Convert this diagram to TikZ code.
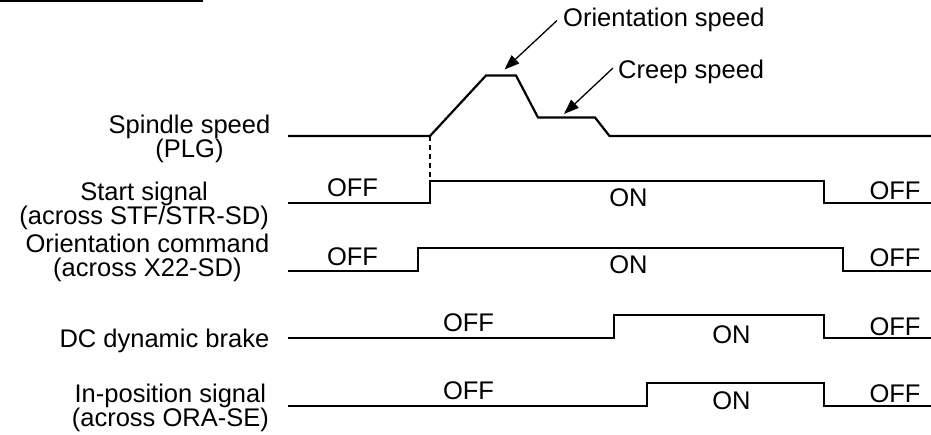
\documentclass[tikz,border=0pt]{standalone}
\usepackage{fontspec}
\setmainfont{Liberation Sans}
\usetikzlibrary{arrows.meta}
\begin{document}
\begin{tikzpicture}[x=1pt,y=-1pt,
  lbl/.style={font=\fontsize{25.5}{24.5}\selectfont, inner sep=0pt, align=center},
  state/.style={font=\fontsize{25.5}{24.5}\selectfont, inner sep=0pt, anchor=base},
  wave/.style={line width=2.4pt, line join=miter},
  thinwave/.style={line width=1.9pt, line join=miter},
  pointer/.style={line width=1.3pt, -{Triangle[length=15pt,width=11pt]}}]
\useasboundingbox (0,0) rectangle (931,435);
% cut-off title underline
\draw[line width=1.8pt] (0,0.9) -- (203,0.9);
\fill (79,0) .. controls (82,2.2) and (86,2.2) .. (89,0) -- cycle;

% signal names
\node[lbl, anchor=north east] (nspin) at (270.5,114.5) {Spindle speed\\(PLG)};
\node[lbl, anchor=north east] (nstart) at (269,181.5) {Start signal\\(across STF/STR-SD)};
\node[lbl, anchor=north east] (norient) at (269.5,233.5) {Orientation command\\(across X22-SD)};
\node[lbl, anchor=north east] (nbrake) at (269.5,328.5) {DC dynamic brake};
\node[lbl, anchor=north east] (npos) at (269,383.5) {In-position signal\\(across ORA-SE)};

% spindle speed
\draw[wave, line width=2.2pt] (288,136) -- (430,136) -- (486,75.5) -- (516,75.5) -- (538,117.5)
  -- (595,117.5) -- (609.5,136) -- (931,136);
\coordinate (rise) at (430,136);
\coordinate (risefoot) at (430,181);
\draw[line width=2pt, dash pattern=on 5pt off 4pt] (rise) -- (risefoot);

% start signal
\draw[wave] (288,203) -- (430,203) -- (430,181) -- (824,181) -- (824,203) -- (931,203);
\node[state] (s1) at (352.5,197) {OFF};
\node[state] (s2) at (628.5,207) {ON};
\node[state] (s3) at (895,200) {OFF};

% orientation command
\draw[wave] (288,271) -- (418,271) -- (418,248) -- (843,248) -- (843,271) -- (931,271);
\node[state] (o1) at (352.5,266) {OFF};
\node[state] (o2) at (628.5,274) {ON};
\node[state] (o3) at (895,267) {OFF};

% DC dynamic brake
\draw[wave, line width=2.8pt] (288,338) -- (614,338) -- (614,315) -- (824,315) -- (824,338) -- (931,338);
\node[state] (b1) at (468.5,332) {OFF};
\node[state] (b2) at (731.5,343) {ON};
\node[state] (b3) at (895,335) {OFF};

% in-position signal
\draw[thinwave] (288,406) -- (647,406) -- (647,383) -- (824,383) -- (824,406) -- (931,406);
\node[state] (p1) at (468.5,399) {OFF};
\node[state] (p2) at (731.5,409) {ON};
\node[state] (p3) at (895,402) {OFF};

% annotations
\node[state, anchor=base west] (ospeed) at (563,27) {Orientation speed};
\node[state, anchor=base west] (cspeed) at (618,79) {Creep speed};
\coordinate (otail) at (557,20.5);
\coordinate (otip) at (504.5,69.5);
\coordinate (ctail) at (613,68);
\coordinate (ctip) at (564,114);
\draw[pointer] (otail) -- (otip);
\draw[pointer] (ctail) -- (ctip);
\end{tikzpicture}
\end{document}
